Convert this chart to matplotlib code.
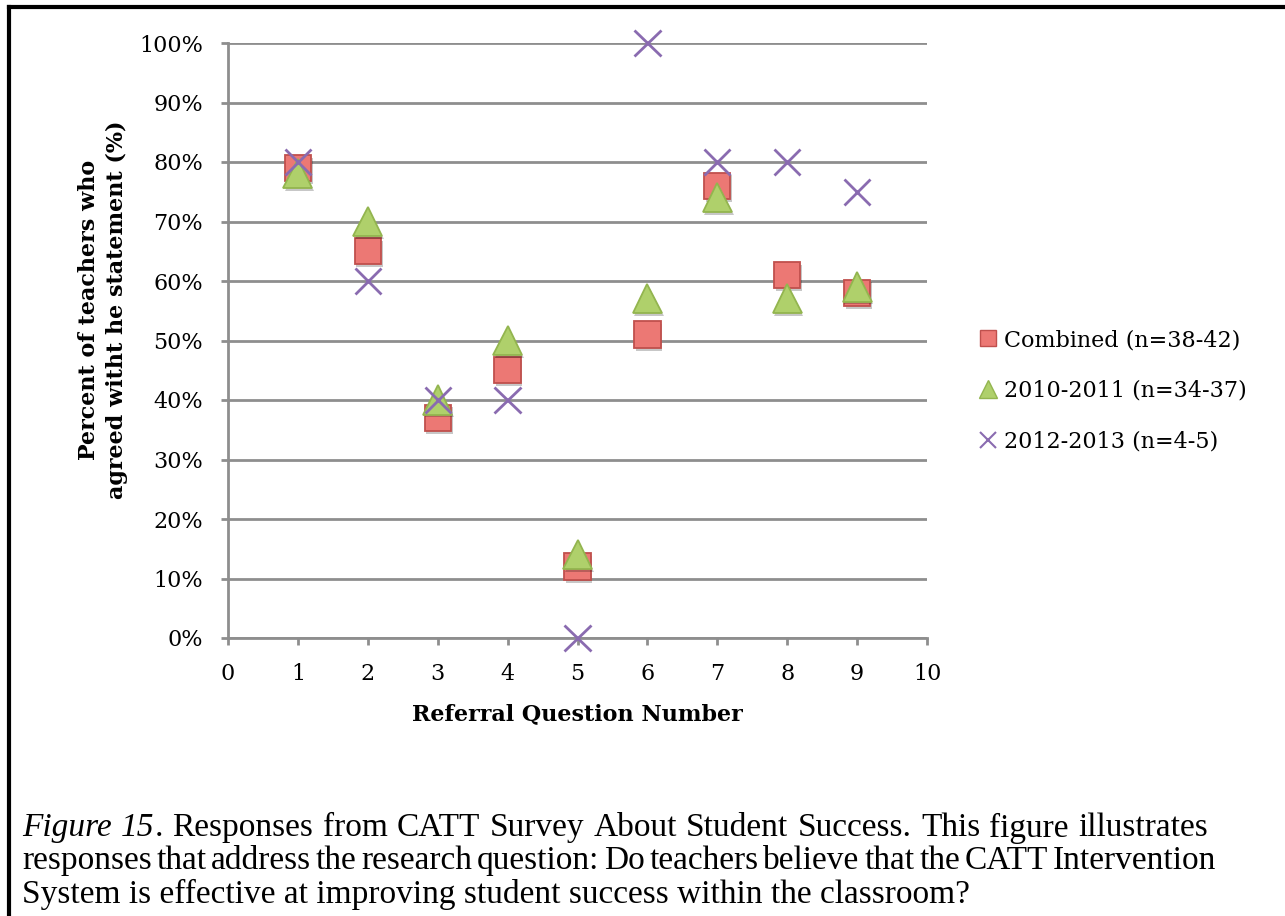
import numpy as np
import matplotlib
matplotlib.use("Agg")
import matplotlib.pyplot as plt
import matplotlib.patheffects as pe
from matplotlib.lines import Line2D

# survey results, percent agreeing per referral question
questions = [1, 2, 3, 4, 5, 6, 7, 8, 9]
combined = [79, 65, 37, 45, 12, 51, 76, 61, 58]
yr_2010_2011 = [78, 70, 40, 50, 14, 57, 74, 57, 59]
yr_2012_2013 = [80, 60, 40, 40, 0, 100, 80, 80, 75]

labels = ["Combined (n=38-42)", "2010-2011 (n=34-37)", "2012-2013 (n=4-5)"]
yticks = np.arange(0, 101, 10)
xticks = np.arange(0, 11, 1)

chart_font = ["DejaVu Serif"]
caption_font = ["Liberation Serif", "DejaVu Serif"]

W, H = 1285, 916
fig = plt.figure(figsize=(W / 100, H / 100), dpi=100)
ax = fig.add_axes([228 / W, 1 - 638 / H, (927 - 228) / W, (638 - 43) / H])

shadow = [pe.SimplePatchShadow(offset=(1.2, -2.0), alpha=0.22, shadow_rgbFace="k"), pe.Normal()]

ax.plot(questions, combined, ls="none", marker="s", ms=19, mfc="#EC7874", mec="#C0504D",
        mew=1.3, clip_on=False, zorder=3, path_effects=shadow)
ax.plot(questions, yr_2010_2011, ls="none", marker="^", ms=21, mfc="#AFD06B", mec="#93B54F",
        mew=1.3, clip_on=False, zorder=4, path_effects=shadow)
ax.plot(questions, yr_2012_2013, ls="none", marker="x", ms=19, mec="#8A6BB0", mew=2.0,
        clip_on=False, zorder=5, path_effects=shadow)

ax.set_xlim(0, 10)
ax.set_ylim(0, 100)
ax.set_xticks(xticks)
ax.set_yticks(yticks)
ax.set_yticklabels([f"{v}%" for v in yticks])
ax.grid(axis="y", color="#8E8E8E", lw=2)
ax.set_axisbelow(True)
for s in ["top", "right"]:
    ax.spines[s].set_visible(False)
for s in ["left", "bottom"]:
    ax.spines[s].set_color("#8E8E8E")
    ax.spines[s].set_linewidth(2)
ax.tick_params(axis="x", direction="out", length=5, width=2, color="#8E8E8E", pad=13)
ax.tick_params(axis="y", direction="out", length=5, width=2, color="#8E8E8E", pad=13)
for t in ax.get_xticklabels() + ax.get_yticklabels():
    t.set_family(chart_font)
    t.set_fontsize(16)

ax.set_xlabel("Referral Question Number", family=chart_font, fontsize=16, fontweight="bold")
ax.xaxis.label.set_va("center")
ax.xaxis.set_label_coords(0.5, (638 - 714) / 595)
ax.set_ylabel("Percent of teachers who\nagreed witht he statement (%)", family=chart_font,
              fontsize=16, fontweight="bold", linespacing=1.3)
ax.yaxis.label.set_va("center")
ax.yaxis.set_label_coords((103 - 228) / 699, (638 - 310) / 595)

handles = [
    Line2D([], [], ls="none", marker="s", ms=12, mfc="#EC7874", mec="#C0504D", mew=1),
    Line2D([], [], ls="none", marker="^", ms=13, mfc="#AFD06B", mec="#93B54F", mew=1),
    Line2D([], [], ls="none", marker="x", ms=12, mec="#8A6BB0", mew=1.5),
]
fig.legend(handles, labels, loc="center left", bbox_to_anchor=(981 / W, 1 - 391 / H),
           frameon=False, prop={"family": chart_font, "size": 16}, handlelength=0.6,
           handletextpad=0.45, labelspacing=1.3, borderpad=0, borderaxespad=0)

# frame around the figure
fig.add_artist(Line2D([9 / W, 9 / W], [0, 1 - 7 / H], transform=fig.transFigure,
                      color="black", lw=3))
fig.add_artist(Line2D([9 / W, 1], [1 - 7 / H, 1 - 7 / H], transform=fig.transFigure,
                      color="black", lw=3))

# caption, spread word by word between x0 and x1 (pixels); last line left ragged
fs = 24
renderer = fig.canvas.get_renderer()


def word_width(pieces):
    w = 0
    for txt, style in pieces:
        t = fig.text(0, 0, txt, family=caption_font, fontsize=fs, style=style)
        w += t.get_window_extent(renderer).width
        t.remove()
    return w


def justified_line(words, y, x0, x1):
    widths = [word_width(p) for p in words]
    gap = (x1 - x0 - sum(widths)) / (len(words) - 1)
    x = x0
    for pieces, w in zip(words, widths):
        xp = x
        for txt, style in pieces:
            t = fig.text(xp / W, 1 - y / H, txt, family=caption_font, fontsize=fs,
                         style=style, va="center")
            xp += t.get_window_extent(renderer).width
        x += w + gap


def plain(s):
    return [[(w, "normal")] for w in s.split()]


line1 = [[("Figure", "italic")], [("15", "italic"), (".", "normal")]] + \
    plain("Responses from CATT Survey About Student Success. This figure illustrates")
line2 = plain("responses that address the research question: Do teachers believe that the CATT Intervention")

justified_line(line1, 828, 22, 1208)
justified_line(line2, 861, 22, 1216)
fig.text(22 / W, 1 - 894 / H, "System is effective at improving student success within the classroom?",
         family=caption_font, fontsize=fs, va="center")

fig.savefig("out.png", dpi=100, facecolor="white")
